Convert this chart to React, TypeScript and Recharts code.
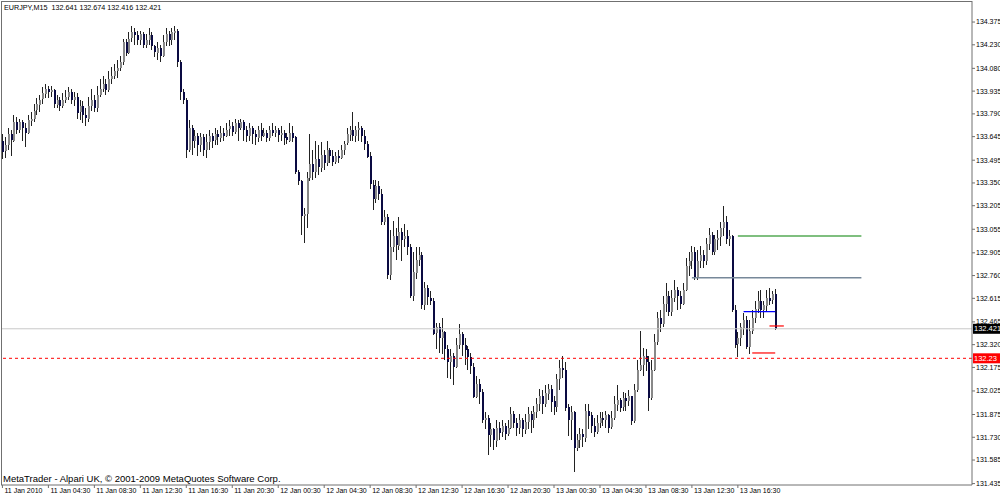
import { ComposedChart, Bar, XAxis, YAxis, ReferenceLine } from 'recharts'

const title = 'EURJPY,M15 132.641 132.674 132.416 132.421'
const footer = 'MetaTrader - Alpari UK, \u00a9 2001-2009 MetaQuotes Software Corp.'

const firstOpen = 133.62

const closes = [
  133.55, 133.59, 133.66, 133.62, 133.74, 133.69, 133.74, 133.70, 133.67, 133.75,
  133.76, 133.81, 133.85, 133.88, 133.92, 133.95, 133.93, 133.94, 133.85, 133.88,
  133.84, 133.88, 133.90, 133.93, 133.88, 133.90, 133.80, 133.84, 133.78, 133.76,
  133.84, 133.88, 133.83, 133.91, 133.95, 133.98, 133.94, 134.01, 134.03, 134.06,
  134.08, 134.12, 134.25, 134.18, 134.27, 134.31, 134.29, 134.26, 134.30, 134.23,
  134.26, 134.29, 134.22, 134.18, 134.21, 134.16, 134.25, 134.30, 134.26, 134.31,
  134.32, 134.12, 133.93, 133.88, 133.56, 133.70, 133.62, 133.65, 133.59, 133.64,
  133.56, 133.61, 133.65, 133.62, 133.66, 133.64, 133.67, 133.65, 133.69, 133.71,
  133.67, 133.73, 133.70, 133.74, 133.69, 133.65, 133.70, 133.66, 133.64, 133.69,
  133.65, 133.67, 133.64, 133.69, 133.67, 133.69, 133.66, 133.67, 133.64, 133.62,
  133.67, 133.64, 133.42, 133.36, 133.14, 133.15, 133.38, 133.47, 133.42, 133.50,
  133.45, 133.53, 133.48, 133.56, 133.52, 133.48, 133.52, 133.51, 133.56, 133.60,
  133.66, 133.69, 133.65, 133.69, 133.70, 133.65, 133.60, 133.52, 133.34, 133.25,
  133.33, 133.28, 133.10, 133.13, 132.76, 132.94, 133.01, 132.95, 133.04, 132.99,
  133.01, 132.94, 132.63, 132.78, 132.86, 132.89, 132.57, 132.68, 132.62, 132.60,
  132.39, 132.43, 132.36, 132.40, 132.29, 132.21, 132.25, 132.18, 132.32, 132.39,
  132.32, 132.29, 132.24, 132.18, 131.99, 132.07, 132.02, 131.84, 131.85, 131.74,
  131.78, 131.71, 131.79, 131.76, 131.80, 131.75, 131.79, 131.88, 131.82, 131.79,
  131.84, 131.78, 131.83, 131.88, 131.84, 131.89, 131.94, 131.99, 131.94, 132.01,
  132.04, 131.96, 131.92, 132.10, 132.17, 132.16, 131.92, 131.84, 131.89, 131.66,
  131.71, 131.75, 131.73, 131.90, 131.87, 131.80, 131.76, 131.82, 131.85, 131.84,
  131.87, 131.79, 131.85, 131.94, 131.97, 131.92, 131.98, 131.96, 131.99, 131.83,
  132.03, 132.16, 132.19, 132.25, 132.21, 131.98, 132.16, 132.34, 132.49, 132.45,
  132.58, 132.63, 132.53, 132.62, 132.67, 132.63, 132.58, 132.67, 132.82, 132.85,
  132.91, 132.75, 132.85, 132.89, 132.85, 132.96, 133.02, 132.91, 132.99, 133.00,
  133.06, 133.10, 132.99, 133.01, 132.54, 132.32, 132.36, 132.43, 132.48, 132.31,
  132.41, 132.49, 132.55, 132.60, 132.54, 132.57, 132.62, 132.60, 132.641, 132.421,
]

const highs = [
  133.66, 133.64, 133.70, 133.69, 133.78, 133.77, 133.76, 133.75, 133.73, 133.78,
  133.80, 133.85, 133.89, 133.91, 133.96, 133.98, 133.97, 133.97, 133.95, 133.91,
  133.90, 133.92, 133.94, 133.96, 133.95, 133.93, 133.92, 133.88, 133.87, 133.83,
  133.90, 133.95, 133.91, 133.97, 134.01, 134.03, 134.01, 134.06, 134.09, 134.11,
  134.13, 134.16, 134.27, 134.27, 134.31, 134.35, 134.34, 134.32, 134.32, 134.31,
  134.30, 134.34, 134.31, 134.23, 134.25, 134.23, 134.29, 134.34, 134.32, 134.34,
  134.35, 134.33, 134.13, 133.95, 133.89, 133.75, 133.72, 133.69, 133.67, 133.67,
  133.66, 133.66, 133.69, 133.67, 133.70, 133.69, 133.71, 133.70, 133.73, 133.75,
  133.74, 133.76, 133.75, 133.76, 133.75, 133.71, 133.73, 133.71, 133.69, 133.71,
  133.73, 133.70, 133.69, 133.71, 133.73, 133.71, 133.70, 133.71, 133.69, 133.67,
  133.73, 133.71, 133.65, 133.43, 133.37, 133.19, 133.42, 133.66, 133.56, 133.62,
  133.59, 133.61, 133.56, 133.62, 133.57, 133.56, 133.55, 133.56, 133.59, 133.62,
  133.70, 133.71, 133.80, 133.71, 133.74, 133.71, 133.69, 133.62, 133.55, 133.37,
  133.37, 133.36, 133.31, 133.18, 133.15, 133.05, 133.11, 133.06, 133.13, 133.06,
  133.09, 133.05, 132.96, 132.91, 132.94, 132.94, 132.91, 132.72, 132.70, 132.66,
  132.62, 132.46, 132.46, 132.49, 132.41, 132.32, 132.29, 132.27, 132.36, 132.45,
  132.40, 132.36, 132.31, 132.27, 132.20, 132.12, 132.10, 132.04, 131.89, 131.87,
  131.82, 131.79, 131.84, 131.83, 131.84, 131.82, 131.84, 131.92, 131.90, 131.85,
  131.88, 131.85, 131.88, 131.92, 131.90, 131.93, 131.98, 132.04, 132.03, 132.06,
  132.07, 132.06, 131.99, 132.13, 132.22, 132.25, 132.21, 131.94, 131.93, 131.90,
  131.75, 131.79, 131.78, 131.94, 131.94, 131.89, 131.85, 131.87, 131.89, 131.89,
  131.90, 131.88, 131.90, 131.99, 132.06, 131.98, 132.02, 132.01, 132.03, 131.99,
  132.07, 132.22, 132.41, 132.30, 132.29, 132.25, 132.22, 132.39, 132.53, 132.54,
  132.63, 132.71, 132.66, 132.67, 132.73, 132.69, 132.66, 132.71, 132.87, 132.91,
  132.95, 132.94, 132.92, 132.95, 132.92, 133.00, 133.06, 133.04, 133.02, 133.05,
  133.10, 133.20, 133.14, 133.05, 133.02, 132.57, 132.40, 132.46, 132.52, 132.50,
  132.48, 132.54, 132.60, 132.66, 132.67, 132.60, 132.67, 132.68, 132.66, 132.674,
]

const lows = [
  133.50, 133.51, 133.56, 133.52, 133.61, 133.66, 133.67, 133.62, 133.58, 133.66,
  133.71, 133.74, 133.78, 133.80, 133.85, 133.89, 133.89, 133.90, 133.83, 133.83,
  133.81, 133.83, 133.86, 133.88, 133.85, 133.84, 133.76, 133.75, 133.73, 133.71,
  133.74, 133.81, 133.80, 133.80, 133.90, 133.93, 133.91, 133.93, 133.98, 134.01,
  134.02, 134.06, 134.10, 134.16, 134.17, 134.25, 134.23, 134.23, 134.23, 134.21,
  134.21, 134.23, 134.20, 134.15, 134.13, 134.12, 134.15, 134.22, 134.22, 134.23,
  134.26, 134.09, 133.88, 133.85, 133.51, 133.55, 133.53, 133.57, 133.52, 133.55,
  133.52, 133.51, 133.56, 133.57, 133.59, 133.59, 133.61, 133.62, 133.64, 133.65,
  133.65, 133.66, 133.62, 133.69, 133.62, 133.61, 133.62, 133.60, 133.59, 133.61,
  133.62, 133.64, 133.61, 133.62, 133.65, 133.64, 133.61, 133.62, 133.59, 133.60,
  133.61, 133.61, 133.41, 133.34, 133.02, 132.97, 133.06, 133.36, 133.37, 133.38,
  133.40, 133.42, 133.43, 133.46, 133.48, 133.46, 133.47, 133.48, 133.50, 133.53,
  133.59, 133.62, 133.62, 133.61, 133.62, 133.61, 133.56, 133.51, 133.31, 133.18,
  133.22, 133.24, 133.08, 133.08, 132.74, 132.73, 132.91, 132.86, 132.92, 132.85,
  132.94, 132.89, 132.62, 132.60, 132.74, 132.82, 132.55, 132.54, 132.57, 132.57,
  132.38, 132.29, 132.27, 132.26, 132.22, 132.11, 132.10, 132.06, 132.17, 132.29,
  132.25, 132.19, 132.16, 132.13, 131.98, 131.98, 131.94, 131.82, 131.78, 131.62,
  131.67, 131.65, 131.67, 131.71, 131.73, 131.71, 131.74, 131.78, 131.79, 131.74,
  131.75, 131.73, 131.75, 131.78, 131.76, 131.79, 131.85, 131.90, 131.88, 131.92,
  131.97, 131.89, 131.87, 131.89, 132.03, 132.11, 131.90, 131.74, 131.71, 131.51,
  131.64, 131.66, 131.67, 131.70, 131.78, 131.76, 131.73, 131.75, 131.79, 131.80,
  131.79, 131.76, 131.78, 131.84, 131.90, 131.89, 131.90, 131.90, 131.93, 131.81,
  131.82, 132.02, 132.15, 132.12, 132.15, 131.90, 131.97, 132.15, 132.32, 132.40,
  132.43, 132.53, 132.50, 132.50, 132.59, 132.54, 132.55, 132.57, 132.66, 132.76,
  132.80, 132.73, 132.73, 132.81, 132.81, 132.83, 132.92, 132.89, 132.89, 132.92,
  132.95, 133.01, 132.96, 132.95, 132.53, 132.30, 132.24, 132.31, 132.38, 132.29,
  132.26, 132.39, 132.46, 132.52, 132.49, 132.49, 132.53, 132.57, 132.58, 132.416,
]

const timeLabels = [
  '11 Jan 2010', '11 Jan 04:30', '11 Jan 08:30', '11 Jan 12:30', '11 Jan 16:30', '11 Jan 20:30',
  '12 Jan 00:30', '12 Jan 04:30', '12 Jan 08:30', '12 Jan 12:30', '12 Jan 16:30', '12 Jan 20:30',
  '13 Jan 00:30', '13 Jan 04:30', '13 Jan 08:30', '13 Jan 12:30', '13 Jan 16:30',
]

const priceTicks = [
  134.375, 134.23, 134.08, 133.935, 133.79, 133.645, 133.495, 133.35, 133.205, 133.055,
  132.905, 132.76, 132.615, 132.465, 132.32, 132.175, 132.025, 131.875, 131.73, 131.585, 131.435,
]

const bid = 132.421
const alertLevel = 132.233
const alertText = '132.23'

// indicator levels drawn on the right side (bar index from / to)
const levels = [
  { y: 133.012, from: 256, to: 299, color: '#008000', w: 1.2 },
  { y: 132.746, from: 240, to: 299, color: '#778899', w: 1.6 },
  { y: 132.53, from: 258, to: 269, color: '#0000ff', w: 1.2 },
  { y: 132.439, from: 267, to: 272, color: '#ff0000', w: 1.2 },
  { y: 132.267, from: 261, to: 269, color: '#ff0000', w: 1.2 },
]

const SLOTS = 338
const LABEL_STEP = 16

const data = Array.from({ length: SLOTS }, (_, i) => {
  if (i >= closes.length) return { i, range: null }
  const o = i === 0 ? firstOpen : closes[i - 1]
  return { i, o, h: highs[i], l: lows[i], c: closes[i], range: [lows[i], highs[i]] }
})

const labelTicks = timeLabels.map((_, k) => k * LABEL_STEP)
const font = '"Liberation Sans", Arial, sans-serif'
const AXIS = '#707070'

function Candle(props: any) {
  const { x, y, width, height, payload } = props
  if (!payload || payload.range == null) return null
  const { o, h, l, c } = payload
  const top = Math.min(y, y + height)
  const span = Math.abs(height)
  const k = h - l > 0 ? span / (h - l) : 0
  const cx = Math.floor(x + width / 2)
  const yo = top + (h - o) * k
  const yc = top + (h - c) * k
  const up = c >= o
  const bodyTop = Math.round(Math.min(yo, yc))
  const bodyH = Math.max(1, Math.round(Math.abs(yo - yc)))
  return (
    <g shapeRendering="crispEdges">
      <line x1={cx + 0.5} x2={cx + 0.5} y1={Math.round(top)} y2={Math.round(top + Math.max(span, 1))}
        stroke="#222222" strokeWidth={1} />
      <rect x={cx} y={bodyTop} width={2} height={bodyH} fill={up ? '#888888' : '#0a0a42'} />
    </g>
  )
}

function PriceTick({ y, payload }: any) {
  return (
    <g>
      <line x1={972} x2={975} y1={y} y2={y} stroke={AXIS} />
      <text x={976} y={y} dy="0.35em" fontSize={7} fontFamily={font} fill="#000">
        {payload.value.toFixed(3)}
      </text>
    </g>
  )
}

function TimeTick({ x, payload }: any) {
  const label = timeLabels[payload.value / LABEL_STEP]
  if (!label) return null
  return (
    <g>
      <line x1={x} x2={x} y1={485} y2={488} stroke={AXIS} />
      <text x={x + 2} y={491} dy="0.35em" fontSize={7} fontFamily={font} fill="#000">{label}</text>
    </g>
  )
}

function PriceTag({ viewBox, text, bg }: any) {
  if (!viewBox) return null
  const y = viewBox.y
  return (
    <g>
      <rect x={973} y={y - 5} width={27} height={10} fill={bg} />
      <text x={974} y={y} dy="0.35em" fontSize={7.5} fontFamily={font} fill="#fff">{text}</text>
    </g>
  )
}

export default function App() {
  return (
    <div style={{ position: 'absolute', left: 0, top: 0, width: 1000, height: 497, background: '#fff' }}>
      <ComposedChart width={1000} height={497} data={data} barCategoryGap={0}
        margin={{ top: 1, right: 0, bottom: 0, left: 1 }}>
        <XAxis dataKey="i" type="category" height={12} ticks={labelTicks} interval={0}
          tick={<TimeTick />} tickLine={false} axisLine={{ stroke: AXIS }} />
        <YAxis orientation="right" width={28} type="number" domain={[131.426, 134.509]}
          allowDataOverflow ticks={priceTicks} interval={0} tick={<PriceTick />}
          tickLine={false} axisLine={{ stroke: AXIS }} />
        <ReferenceLine y={bid} stroke="#c8c8c8" strokeWidth={1}
          label={<PriceTag text={bid.toFixed(3)} bg="#000" />} />
        <ReferenceLine y={alertLevel} stroke="#ff0000" strokeDasharray="3 3" strokeWidth={1}
          label={<PriceTag text={alertText} bg="#ff0000" />} />
        {levels.map((lv, n) => (
          <ReferenceLine key={n} segment={[{ x: lv.from, y: lv.y }, { x: lv.to, y: lv.y }]}
            stroke={lv.color} strokeWidth={lv.w} />
        ))}
        <Bar dataKey="range" shape={<Candle />} isAnimationActive={false} />
      </ComposedChart>
      <div style={{ position: 'absolute', left: 1, top: 1, width: 971, height: 484,
        borderTop: '1px solid ' + AXIS, borderLeft: '1px solid ' + AXIS, boxSizing: 'border-box', pointerEvents: 'none' }} />
      <div style={{ position: 'absolute', left: 4, top: 3, fontFamily: font, fontSize: 7.2, lineHeight: '9px', color: '#000', whiteSpace: 'pre' }}>
        {title.replace(' ', '  ')}
      </div>
      <div style={{ position: 'absolute', left: 3, top: 473, fontFamily: font, fontSize: 9.5, lineHeight: '11px', color: '#000', whiteSpace: 'pre' }}>
        {footer}
      </div>
    </div>
  )
}
